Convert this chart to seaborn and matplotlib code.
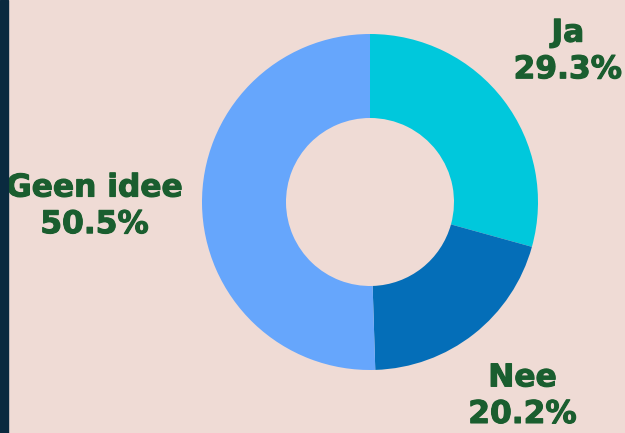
import numpy as np
import matplotlib
matplotlib.use("Agg")
import matplotlib.pyplot as plt
import matplotlib.patheffects as pe
import seaborn as sns

categories = ["Ja", "Nee", "Geen idee"]
values = [29.3, 20.2, 50.5]
colors = ["#00c8dc", "#046eb8", "#66a6fc"]
label_dist = [1.48, 1.47, 1.64]

sns.set_theme(style="white")
plt.rcParams['font.family'] = ['DejaVu Sans']

bg = "#efdbd5"
txt = "#1a5e2f"
fig = plt.figure(figsize=(6.25, 4.33), dpi=100, facecolor=bg)
ax = fig.add_axes([0, 0, 1, 1])
ax.set_facecolor(bg)

cx, cy, r = 370, 231, 168
wedges, _ = ax.pie(values, colors=colors, startangle=90, counterclock=False,
                   center=(cx, cy), radius=r,
                   wedgeprops=dict(width=r * 0.5, edgecolor="none"))
ax.set_xlim(0, 625)
ax.set_ylim(0, 433)
ax.set_aspect("equal")
ax.axis("off")

for w, cat, v, d in zip(wedges, categories, values, label_dist):
    ang = np.deg2rad((w.theta1 + w.theta2) / 2)
    x = cx + d * r * np.cos(ang)
    y = cy + d * r * np.sin(ang)
    ax.text(x, y, f"{cat}\n{v:.1f}%", ha="center", va="center",
            fontsize=22.5, fontweight="bold", color=txt,
            linespacing=1.33,
            path_effects=[pe.withStroke(linewidth=0.8, foreground=txt)])

# dark strip on left
fig.patches.append(plt.Rectangle((0, 0), 8 / 625, 1, transform=fig.transFigure,
                                 color="#0a2a3f", zorder=10))

fig.savefig("out.png", dpi=100, facecolor=bg)
